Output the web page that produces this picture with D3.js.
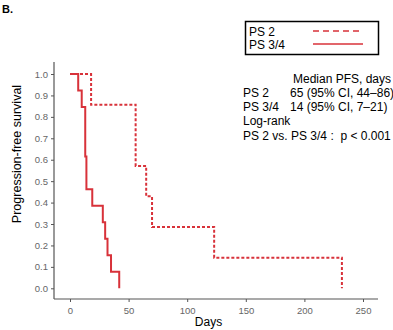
<!DOCTYPE html>
<html>
<head>
<meta charset="utf-8">
<script src="https://cdn.jsdelivr.net/npm/d3@7"></script>
<style>
  body { margin: 0; background: #fff; }
  svg { font-family: "Liberation Sans", Arial, sans-serif; }
</style>
</head>
<body>
<svg width="393" height="330"></svg>
<script>
// Kaplan-Meier steps: [day, survival]
const ps2Steps = [[0, 1], [18, 0.857], [56, 0.571], [65, 0.429], [70, 0.286], [123, 0.143], [232, 0]];
const ps34Steps = [[0, 1], [7, 0.923], [10, 0.846], [13, 0.615], [14, 0.462], [19, 0.385],
    [28, 0.308], [30, 0.231], [32, 0.154], [35, 0.077], [42, 0]];

const xTicks = [0, 50, 100, 150, 200, 250];
const yTicks = [0, 0.1, 0.2, 0.3, 0.4, 0.5, 0.6, 0.7, 0.8, 0.9, 1.0];

const legendLabels = ["PS 2", "PS 3/4"];
const statLines = [
    ["", "Median PFS, days"],
    ["PS 2", "65 (95% CI, 44\u201386)"],
    ["PS 3/4", "14 (95% CI, 7\u201321)"],
    ["Log-rank", ""],
    ["PS 2 vs. PS 3/4 :  p < 0.001", ""]
];

const red = "#d8323a";
const axisColor = "#555";

function toPath(steps, scaleX, scaleY) {
    // step-after curve, ending with a drop at the last event
    const line = d3.line()
        .x((d) => scaleX(d[0]))
        .y((d) => scaleY(d[1]))
        .curve(d3.curveStepAfter);
    return line(steps);
}

function drawChart() {
    const svg = d3.select("svg");

    const scaleX = d3.scaleLinear().domain([0, 250]).range([70, 363]);
    const scaleY = d3.scaleLinear().domain([0, 1]).range([288.3, 74]);

    const axisX = d3.axisBottom(scaleX).tickValues(xTicks).tickSize(3).tickSizeOuter(0);
    const axisY = d3.axisLeft(scaleY).tickValues(yTicks).tickSize(3).tickSizeOuter(0)
        .tickFormat(d3.format(".1f"));

    const gx = svg.append("g")
        .attr("transform", "translate(0, 299)")
        .call(axisX);
    gx.select(".domain").attr("d", "M54,0H378");

    const gy = svg.append("g")
        .attr("transform", "translate(54, 0)")
        .call(axisY);
    gy.select(".domain").attr("d", "M0,62V299");

    [gx, gy].forEach((g) => {
        g.select(".domain").attr("stroke", axisColor).attr("stroke-width", 1.2);
        g.selectAll(".tick line").attr("stroke", axisColor);
        g.selectAll(".tick text")
            .attr("fill", "#666")
            .style("font-size", "9.5px")
            .style("font-family", "Liberation Sans, Arial, sans-serif");
    });
    gx.selectAll(".tick text").attr("dy", "0.9em");

    // curves
    svg.append("path")
        .attr("d", toPath(ps2Steps, scaleX, scaleY))
        .attr("fill", "none")
        .attr("stroke", red)
        .attr("stroke-width", 2)
        .attr("stroke-dasharray", "3,2");

    svg.append("path")
        .attr("d", toPath(ps34Steps, scaleX, scaleY))
        .attr("fill", "none")
        .attr("stroke", red)
        .attr("stroke-width", 2);

    // axis titles
    svg.append("text")
        .attr("x", scaleX(125) - 8)
        .attr("y", 326)
        .attr("text-anchor", "middle")
        .style("font-size", "12px")
        .text("Days");

    svg.append("text")
        .attr("transform", "translate(21, 154) rotate(-90)")
        .attr("text-anchor", "middle")
        .style("font-size", "12.5px")
        .text("Progression-free survival");

    // panel letter
    svg.append("text")
        .attr("x", 2)
        .attr("y", 13)
        .style("font-size", "11px")
        .style("font-weight", "bold")
        .text("B.");

    // legend
    svg.append("rect")
        .attr("x", 245.5).attr("y", 21.5)
        .attr("width", 133).attr("height", 33)
        .attr("fill", "none")
        .attr("stroke", "#000")
        .attr("stroke-width", 1.5);

    legendLabels.forEach((label, i) => {
        const y = 31 + i * 13;
        svg.append("text")
            .attr("x", 249)
            .attr("y", y + 4.5)
            .style("font-size", "12px")
            .text(label);
        svg.append("line")
            .attr("x1", 313).attr("x2", 363)
            .attr("y1", y).attr("y2", y)
            .attr("stroke", red)
            .attr("stroke-width", 1.5)
            .attr("stroke-dasharray", i === 0 ? "6,4" : null);
    });

    // statistics block
    statLines.forEach((row, i) => {
        const y = 82.5 + i * 14.3;
        svg.append("text")
            .attr("x", 243)
            .attr("y", y)
            .style("font-size", "12px")
            .style("white-space", "pre")
            .text(row[0]);
        svg.append("text")
            .attr("x", row[0] === "" ? 293 : 290)
            .attr("y", y)
            .style("font-size", "12px")
            .text(row[1]);
    });
}

drawChart();
</script>
</body>
</html>
